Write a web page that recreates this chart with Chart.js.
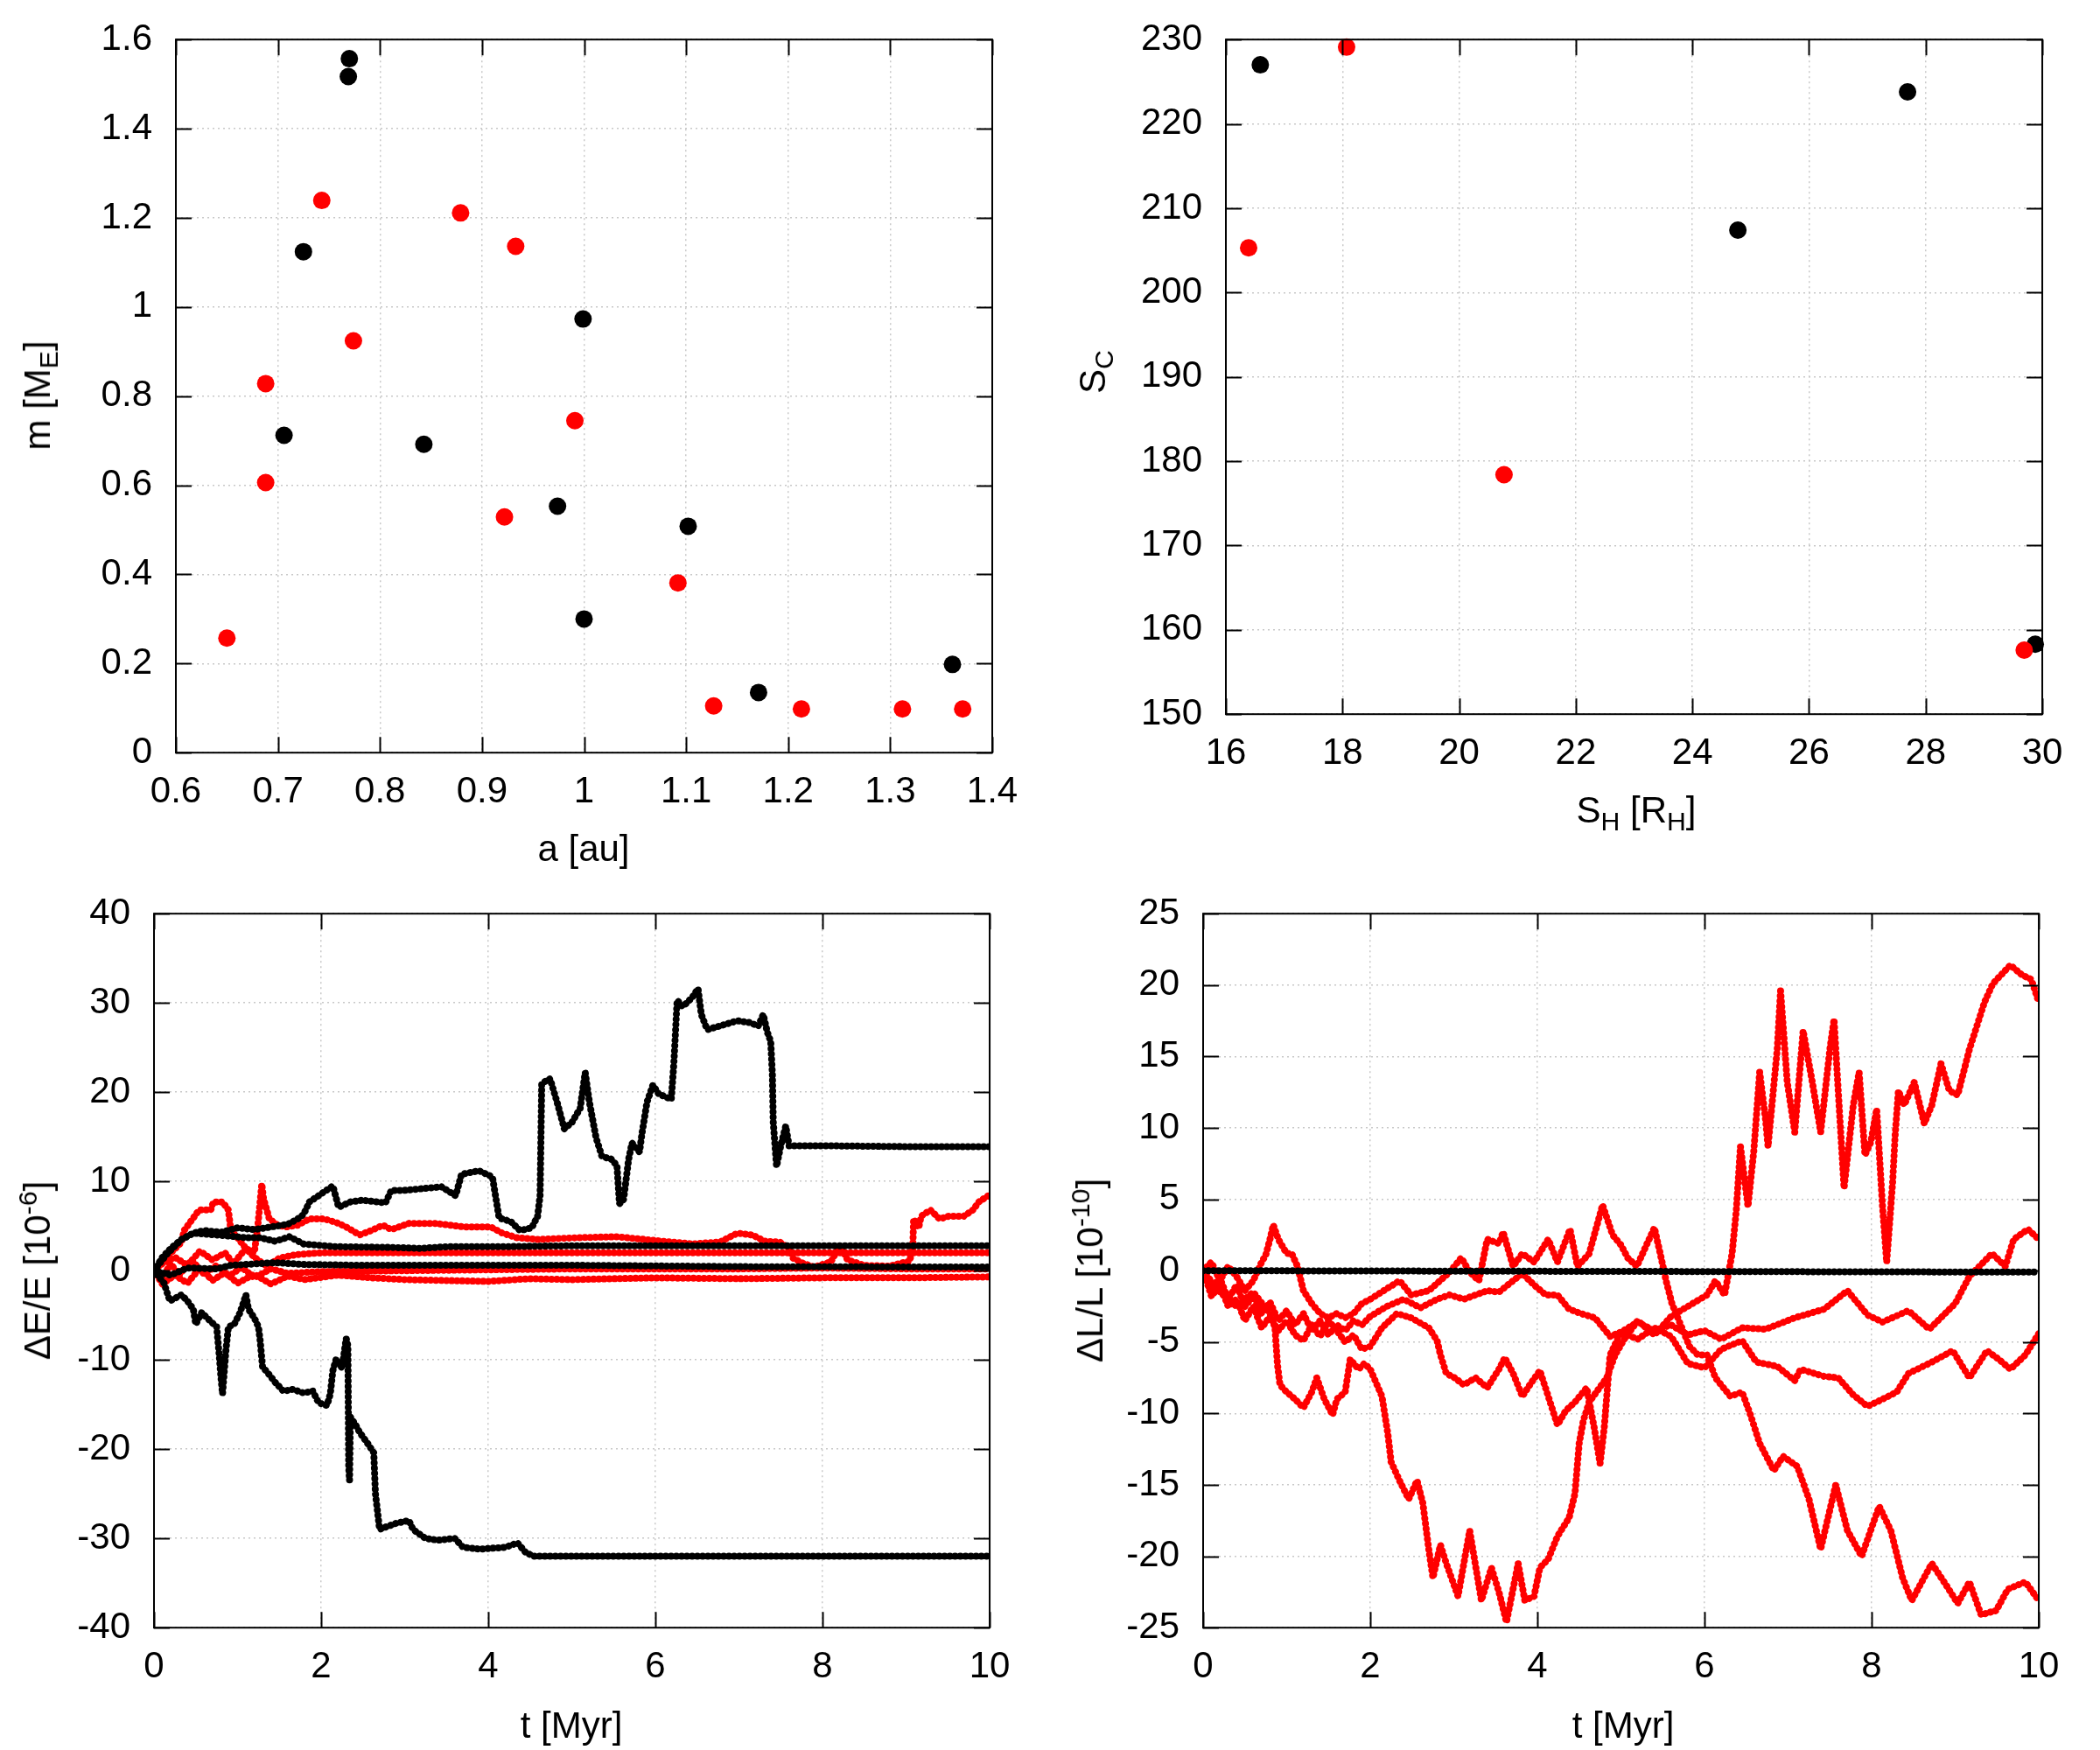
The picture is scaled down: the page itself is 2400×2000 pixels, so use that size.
<!DOCTYPE html>
<html>
<head>
<meta charset="utf-8">
<script src="https://cdn.jsdelivr.net/npm/chart.js@4.4.1/dist/chart.umd.min.js"></script>
<style>
html, body { margin: 0; padding: 0; background: #fff; }
#page { position: relative; width: 2400px; height: 2000px; overflow: hidden; font-family: "Liberation Sans", Arial, sans-serif; }
.panel { position: absolute; }
.ttl { position: absolute; font-size: 42px; white-space: nowrap; color: #000; line-height: 1; transform: translate(-50%, -50%); }
.ttl.rot { transform: translate(-50%, -50%) rotate(-90deg); }
sub, sup { font-size: 0.72em; line-height: 0; }
</style>
</head>
<body>
<div id="page">
  <canvas id="c1" class="panel"></canvas>
  <canvas id="c2" class="panel"></canvas>
  <canvas id="c3" class="panel"></canvas>
  <canvas id="c4" class="panel"></canvas>

  <div class="ttl" style="left:667px;top:970px">a [au]</div>
  <div class="ttl rot" style="left:43px;top:452px">m [M<sub>E</sub>]</div>
  <div class="ttl" style="left:1870px;top:926px">S<sub>H</sub> [R<sub>H</sub>]</div>
  <div class="ttl rot" style="left:1249px;top:425px">S<sub>C</sub></div>
  <div class="ttl rot" style="left:43px;top:1452px">&Delta;E/E [10<sup>-6</sup>]</div>
  <div class="ttl" style="left:653px;top:1972px">t [Myr]</div>
  <div class="ttl rot" style="left:1246px;top:1452px">&Delta;L/L [10<sup>-10</sup>]</div>
  <div class="ttl" style="left:1855px;top:1972px">t [Myr]</div>
</div>
<script>
// --- top left: mass vs semi-major axis
const aBlack = [0.770, 0.769, 0.725, 0.706, 0.843, 0.999, 0.974, 1.102, 1.000, 1.171, 1.361];
const mBlack = [1.557, 1.517, 1.124, 0.712, 0.692, 0.973, 0.553, 0.508, 0.300, 0.135, 0.198];
const aRed = [0.650, 0.688, 0.688, 0.743, 0.774, 0.879, 0.933, 0.991, 0.922, 1.092, 1.127, 1.213, 1.312, 1.371];
const mRed = [0.257, 0.828, 0.606, 1.239, 0.924, 1.211, 1.136, 0.745, 0.529, 0.381, 0.105, 0.098, 0.098, 0.098];

// --- top right: S_C vs S_H
const shBlack = [16.59, 24.78, 27.69, 29.88];
const scBlack = [227.0, 207.4, 223.8, 158.3];
const shRed = [16.39, 18.07, 20.77, 29.69];
const scRed = [205.3, 229.1, 178.4, 157.6];

// --- bottom left: dE/E [1e-6] vs t [Myr], pairs [t, value]
const eBlackUp = [[0,0],[0.1,1.5],[0.2,2.5],[0.33,3.5],[0.47,4.2],[0.6,4.5],[0.8,4.3],[1.0,4.8],[1.2,4.6],[1.4,4.9],[1.6,5.2],[1.72,5.8],[1.79,6.3],[1.86,7.7],[2.0,8.6],[2.14,9.5],[2.21,7.1],[2.35,7.7],[2.49,7.9],[2.77,7.6],[2.84,9.0],[3.0,9.0],[3.44,9.4],[3.61,8.4],[3.68,10.8],[3.89,11.2],[4.05,10.5],[4.13,5.9],[4.27,5.5],[4.38,4.5],[4.52,4.8],[4.59,6.1],[4.62,8.4],[4.64,21.0],[4.74,21.5],[4.82,19.0],[4.91,15.9],[5.0,16.6],[5.1,18.2],[5.16,22.2],[5.21,18.9],[5.29,14.9],[5.36,12.8],[5.47,12.5],[5.54,11.8],[5.57,7.5],[5.62,8.0],[5.68,12.5],[5.72,14.3],[5.81,13.3],[5.84,15.4],[5.9,18.9],[5.97,20.8],[6.04,19.8],[6.19,19.2],[6.22,23.1],[6.26,30.3],[6.33,29.6],[6.44,30.6],[6.51,31.6],[6.55,28.7],[6.62,27.0],[6.8,27.5],[6.98,28.0],[7.13,27.8],[7.23,27.4],[7.29,28.7],[7.34,26.7],[7.38,25.7],[7.4,22.0],[7.41,16.7],[7.45,11.7],[7.5,14.0],[7.56,16.2],[7.6,14.0],[8.0,14.0],[9.0,13.9],[10,13.9]];
const eBlackDown = [[0,0],[0.12,-1.4],[0.19,-3.4],[0.33,-2.7],[0.4,-3.4],[0.47,-4.3],[0.5,-6.0],[0.57,-4.7],[0.68,-5.7],[0.75,-6.3],[0.78,-9.4],[0.8,-11.8],[0.82,-13.8],[0.86,-9.0],[0.89,-6.3],[0.96,-6.0],[1.03,-4.7],[1.1,-2.7],[1.13,-4.3],[1.2,-5.3],[1.25,-6.3],[1.27,-7.8],[1.3,-10.9],[1.34,-11.2],[1.45,-12.5],[1.55,-13.5],[1.66,-13.3],[1.79,-13.7],[1.9,-13.5],[1.97,-14.8],[2.07,-15.1],[2.11,-13.8],[2.14,-11.2],[2.18,-9.9],[2.25,-10.9],[2.3,-7.6],[2.32,-8.4],[2.33,-22.0],[2.34,-23.5],[2.35,-16.4],[2.42,-17.4],[2.46,-18.1],[2.56,-19.4],[2.63,-20.4],[2.65,-25.0],[2.7,-29.0],[2.75,-28.8],[2.9,-28.3],[3.05,-28.0],[3.1,-29.0],[3.25,-30.0],[3.4,-30.2],[3.6,-30.0],[3.7,-31.0],[3.9,-31.2],[4.2,-31.0],[4.35,-30.5],[4.45,-31.6],[4.55,-32.0],[6,-32.0],[8,-32.0],[10,-32.0]];
const eBlackMid1 = [[0,0],[0.15,1.8],[0.33,3.5],[0.47,4.2],[0.75,4.0],[1.1,3.7],[1.27,3.7],[1.45,3.3],[1.62,3.8],[1.79,3.0],[2.14,2.7],[2.84,2.6],[3.19,2.5],[3.54,2.7],[4.24,2.7],[5.08,2.8],[7,2.8],[10,2.8]];
const eBlackMid2 = [[0,0],[0.2,-0.5],[0.4,0.3],[0.75,0.2],[0.92,0.6],[1.45,0.9],[1.79,0.7],[2.49,0.6],[3.89,0.6],[5.08,0.6],[7,0.45],[10,0.4]];
const eRed1 = [[0,0],[0.15,1.5],[0.33,3.2],[0.36,4.5],[0.54,6.8],[0.68,6.8],[0.71,7.7],[0.82,7.7],[0.89,6.8],[0.92,4.5],[0.99,3.8],[1.1,2.5],[1.2,2.0],[1.24,4.8],[1.29,9.7],[1.31,8.1],[1.34,7.1],[1.38,5.8],[1.48,5.1],[1.58,4.9],[1.72,5.1],[1.86,5.8],[2.04,5.8],[2.21,5.3],[2.32,4.8],[2.46,4.0],[2.6,4.5],[2.74,5.1],[2.84,4.6],[3.05,5.3],[3.36,5.3],[3.54,5.1],[3.71,4.9],[4.03,4.9],[4.17,4.2],[4.34,3.7],[4.59,3.5],[5.08,3.7],[5.54,3.8],[6.08,3.3],[6.44,3.0],[6.77,3.2],[6.98,4.2],[7.16,4.0],[7.31,3.3],[7.49,3.2],[7.6,2.5],[7.65,1.4],[7.75,0.9],[7.9,0.4],[8.1,1.0],[8.21,2.8],[8.3,1.2],[8.5,0.6],[8.8,0.5],[9.0,1.0],[9.04,1.0],[9.08,2.5],[9.09,5.8],[9.15,4.8],[9.18,6.1],[9.29,6.8],[9.4,5.8],[9.51,6.1],[9.69,6.1],[9.8,6.8],[9.87,7.7],[10,8.5]];
const eRed2 = [[0,0],[0.1,0.8],[0.25,1.5],[0.4,0.6],[0.55,2.2],[0.7,1.2],[0.85,2.0],[0.95,0.8],[1.1,2.5],[1.2,1.5],[1.35,0.5],[1.5,1.4],[1.7,1.8],[2.0,2.0],[3,2.0],[5,2.0],[7,2.0],[10,2.0]];
const eRed3 = [[0,0],[0.1,-0.8],[0.2,0.8],[0.3,-0.5],[0.45,1.2],[0.6,-0.4],[0.75,0.6],[0.9,-0.6],[1.05,0.4],[1.2,-0.8],[1.4,0.2],[1.6,-0.3],[2.0,-0.1],[3,0],[4,0.1],[5,0.2],[6,0.2],[7,0.2],[8,0.3],[9,0.2],[10,0.2]];
const eRed4 = [[0,0],[0.1,-1.5],[0.25,-0.5],[0.4,-1.4],[0.55,0.3],[0.7,-1.1],[0.85,-0.2],[1.0,-1.4],[1.2,-0.4],[1.4,-1.5],[1.6,-0.6],[1.8,-1.0],[2.2,-0.5],[2.6,-0.8],[3.0,-1.0],[3.5,-1.1],[4.0,-1.2],[4.5,-0.9],[5.0,-1.0],[6.0,-0.8],[7.0,-0.9],[8.0,-0.8],[9.0,-0.8],[10,-0.7]];

// --- bottom right: dL/L [1e-10] vs t [Myr]
const lBlack = [[0,0],[5,-0.05],[10,-0.1]];
const lRedA = [[0,0],[0.1,0.6],[0.2,-0.7],[0.3,0.3],[0.4,-0.4],[0.5,-1.4],[0.6,-0.7],[0.7,0.6],[0.75,1.1],[0.8,2.2],[0.84,3.2],[0.9,2.2],[1.0,1.2],[1.06,1.2],[1.13,0.3],[1.2,-1.4],[1.3,-2.3],[1.4,-3.0],[1.5,-3.3],[1.6,-3.0],[1.7,-3.3],[1.8,-3.0],[1.9,-2.3],[2.0,-2.0],[2.35,-0.7],[2.49,-1.7],[2.7,-1.4],[2.95,-0.1],[3.09,0.9],[3.19,-0.1],[3.3,-0.7],[3.4,2.2],[3.54,1.9],[3.59,2.7],[3.71,0.3],[3.82,1.2],[3.96,0.6],[4.13,2.2],[4.24,0.6],[4.39,2.9],[4.48,0.3],[4.62,1.2],[4.78,4.6],[4.9,2.5],[5.0,1.8],[5.08,0.9],[5.19,0.3],[5.29,1.6],[5.4,3.0],[5.47,1.2],[5.54,-0.7],[5.61,-2.3],[5.68,-3.3],[5.82,-5.3],[5.92,-5.9],[6.03,-5.9],[6.13,-7.5],[6.31,-8.8],[6.45,-8.5],[6.55,-10.1],[6.66,-12.1],[6.83,-14.0],[6.94,-13.0],[7.11,-13.7],[7.25,-16.0],[7.39,-19.5],[7.57,-15.0],[7.71,-18.2],[7.88,-20.0],[8.09,-16.5],[8.23,-18.2],[8.37,-21.5],[8.48,-23.1],[8.72,-20.5],[8.9,-22.1],[9.03,-23.3],[9.17,-21.8],[9.31,-24.1],[9.49,-23.8],[9.63,-22.3],[9.84,-21.8],[10,-23.1]];
const lRedB = [[0,0],[0.1,-1.2],[0.2,-0.5],[0.3,-2.0],[0.4,-1.0],[0.5,-2.5],[0.6,-1.8],[0.7,-3.0],[0.8,-2.2],[0.9,-3.5],[1.0,-2.8],[1.1,-3.8],[1.2,-3.0],[1.3,-4.2],[1.4,-3.5],[1.5,-4.5],[1.6,-3.8],[1.7,-4.2],[1.8,-3.5],[1.9,-3.8],[2.0,-3.2],[2.2,-2.5],[2.4,-2.0],[2.6,-2.6],[2.8,-2.0],[2.95,-1.7],[3.12,-2.0],[3.26,-1.7],[3.4,-1.4],[3.54,-1.5],[3.71,-0.7],[3.82,-0.2],[3.96,-1.0],[4.1,-1.7],[4.24,-1.7],[4.38,-2.7],[4.52,-3.0],[4.69,-3.3],[4.87,-4.6],[5.0,-4.3],[5.2,-3.6],[5.4,-4.2],[5.6,-3.8],[5.8,-4.5],[6.0,-4.2],[6.2,-4.8],[6.45,-4.0],[6.73,-4.1],[7.08,-3.3],[7.43,-2.7],[7.71,-1.4],[7.95,-3.1],[8.13,-3.6],[8.44,-2.8],[8.69,-4.1],[9.0,-2.3],[9.17,-0.4],[9.44,1.2],[9.6,0.3],[9.7,2.2],[9.87,2.9],[10,2.2]];
const lRedC = [[0,0],[0.1,-1.8],[0.2,-1.0],[0.3,-2.5],[0.4,-2.0],[0.5,-3.5],[0.6,-2.5],[0.7,-4.0],[0.8,-3.2],[0.9,-4.2],[1.0,-3.5],[1.1,-4.5],[1.2,-4.9],[1.3,-3.8],[1.4,-4.6],[1.5,-3.5],[1.6,-4.2],[1.7,-5.0],[1.8,-4.5],[1.9,-5.5],[2.0,-5.3],[2.14,-4.0],[2.32,-3.0],[2.49,-3.3],[2.7,-4.0],[2.8,-4.9],[2.84,-5.9],[2.91,-7.2],[3.01,-7.5],[3.12,-8.0],[3.26,-7.5],[3.4,-8.2],[3.54,-6.9],[3.61,-6.1],[3.71,-7.2],[3.82,-8.8],[3.92,-7.9],[4.03,-7.0],[4.13,-8.8],[4.24,-10.8],[4.34,-9.8],[4.45,-9.2],[4.59,-8.2],[4.68,-11.0],[4.75,-13.5],[4.8,-11.0],[4.87,-5.9],[5.0,-4.3],[5.2,-4.8],[5.4,-4.0],[5.6,-4.6],[5.8,-6.5],[6.0,-6.8],[6.2,-5.5],[6.45,-4.9],[6.62,-6.4],[6.87,-6.7],[7.08,-7.7],[7.15,-6.9],[7.43,-7.4],[7.6,-7.5],[7.78,-8.7],[7.95,-9.5],[8.13,-9.0],[8.3,-8.5],[8.44,-7.2],[8.72,-6.4],[8.97,-5.6],[9.17,-7.5],[9.38,-5.6],[9.52,-6.2],[9.66,-6.9],[9.84,-5.9],[10,-4.4]];
const lRedD = [[0,0],[0.2,-1.5],[0.4,-2.5],[0.6,-1.5],[0.8,-3.0],[0.86,-4.0],[0.89,-6.6],[0.92,-8.0],[1.0,-8.5],[1.1,-9.0],[1.2,-9.6],[1.3,-8.5],[1.36,-7.5],[1.45,-9.0],[1.55,-10.1],[1.6,-9.0],[1.7,-8.5],[1.76,-6.2],[1.86,-6.9],[1.93,-6.5],[2.0,-6.9],[2.14,-8.8],[2.21,-11.4],[2.25,-13.4],[2.35,-14.7],[2.46,-16.0],[2.56,-14.7],[2.63,-16.3],[2.7,-19.5],[2.75,-21.5],[2.84,-19.2],[2.91,-20.5],[3.05,-22.8],[3.19,-18.2],[3.33,-23.1],[3.45,-20.8],[3.54,-22.5],[3.63,-24.6],[3.77,-20.5],[3.85,-23.1],[3.96,-22.8],[4.03,-20.8],[4.13,-20.2],[4.24,-18.6],[4.38,-17.3],[4.45,-15.6],[4.5,-12.1],[4.55,-10.5],[4.62,-9.2],[4.83,-7.5],[4.93,-5.9],[5.04,-4.8],[5.2,-3.5],[5.4,-4.5],[5.6,-3.2],[5.8,-2.5],[6.03,-1.7],[6.13,-0.7],[6.24,-1.7],[6.33,1.2],[6.38,4.2],[6.43,8.7],[6.52,4.5],[6.59,8.4],[6.66,13.9],[6.73,10.6],[6.76,8.7],[6.87,15.5],[6.91,19.6],[6.99,13.2],[7.08,9.7],[7.18,16.8],[7.29,13.2],[7.39,9.7],[7.5,15.5],[7.55,17.6],[7.6,12.6],[7.67,5.8],[7.78,11.6],[7.85,13.9],[7.92,8.1],[7.99,9.0],[8.06,11.3],[8.13,4.5],[8.18,0.6],[8.25,6.1],[8.28,9.4],[8.32,12.6],[8.39,11.6],[8.51,13.2],[8.63,10.3],[8.72,11.6],[8.83,14.5],[8.93,12.6],[9.03,12.3],[9.17,15.5],[9.35,18.8],[9.45,20.1],[9.66,21.4],[9.8,20.7],[9.91,20.4],[10,18.8]];

const RED = "#ff0000";
const BLACK = "#000000";

Chart.defaults.font.family = '"Liberation Sans", Arial, sans-serif';
Chart.defaults.font.size = 42;
Chart.defaults.color = "#000";

const zip = (xs, ys) => xs.map((x, i) => ({ x: x, y: ys[i] }));
const pairs = arr => arr.map(p => ({ x: p[0], y: p[1] }));
const fmt = v => String(+v.toFixed(2));

// gnuplot style frame with inward mirrored ticks
const frameTicks = {
  id: "frameTicks",
  afterDatasetsDraw(chart) {
    const { ctx, chartArea: a, scales } = chart;
    const len = 18;
    ctx.save();
    ctx.strokeStyle = "#000";
    ctx.lineWidth = 2;
    ctx.beginPath();
    scales.x.ticks.forEach((t, i) => {
      const px = Math.round(scales.x.getPixelForTick(i)) + 0.5;
      ctx.moveTo(px, a.bottom); ctx.lineTo(px, a.bottom - len);
      ctx.moveTo(px, a.top); ctx.lineTo(px, a.top + len);
    });
    scales.y.ticks.forEach((t, i) => {
      const py = Math.round(scales.y.getPixelForTick(i)) + 0.5;
      ctx.moveTo(a.left, py); ctx.lineTo(a.left + len, py);
      ctx.moveTo(a.right, py); ctx.lineTo(a.right - len, py);
    });
    ctx.stroke();
    ctx.strokeRect(a.left, a.top, a.right - a.left, a.bottom - a.top);
    ctx.restore();
  }
};

function axis(min, max, step, isX, padL, padB) {
  return {
    type: "linear",
    min: min, max: max,
    grid: { color: "#c8c8c8", lineWidth: 1.5, drawTicks: false },
    border: { display: false, dash: [2, 4] },
    ticks: { stepSize: step, autoSkip: false, maxRotation: 0, padding: isX ? 20 : 27, callback: fmt },
    afterFit: s => { if (isX) s.height = padB; else s.width = padL; }
  };
}

// place a chart so that its plot area lands on box (page pixels)
function makePanel(id, box, xr, yr, datasets) {
  const L = 140, B = 90;
  const w = box.right - box.left, h = box.bottom - box.top;
  const cv = document.getElementById(id);
  cv.width = w + L + 40;
  cv.height = h + B + 30;
  cv.style.width = cv.width + "px";
  cv.style.height = cv.height + "px";
  const chart = new Chart(cv, {
    type: "scatter",
    data: { datasets: datasets },
    options: {
      responsive: false,
      maintainAspectRatio: false,
      animation: false,
      devicePixelRatio: 1,
      layout: { padding: 0 },
      plugins: { legend: { display: false }, tooltip: { enabled: false } },
      scales: {
        x: axis(xr[0], xr[1], xr[2], true, L, B),
        y: axis(yr[0], yr[1], yr[2], false, L, B)
      }
    },
    plugins: [frameTicks]
  });
  let a = chart.chartArea;
  const dw = w - (a.right - a.left), dh = h - (a.bottom - a.top);
  if (Math.abs(dw) > 0.5 || Math.abs(dh) > 0.5) {
    chart.resize(cv.width + dw, cv.height + dh);
    a = chart.chartArea;
  }
  cv.style.left = (box.left - a.left) + "px";
  cv.style.top = (box.top - a.top) + "px";
  return chart;
}

function dots(data, color) {
  return { data: data, pointRadius: 10, pointBackgroundColor: color, pointBorderWidth: 0, borderWidth: 0, clip: false };
}
function trace(data, color) {
  return {
    data: data, showLine: true, pointRadius: 0, borderColor: color, borderWidth: 8,
    borderDash: [0.01, 6], borderCapStyle: "round", borderJoinStyle: "round", tension: 0
  };
}

makePanel("c1", { left: 201, top: 45, right: 1134, bottom: 860 }, [0.6, 1.4, 0.1], [0, 1.6, 0.2], [
  dots(zip(aRed, mRed), RED),
  dots(zip(aBlack, mBlack), BLACK)
]);

makePanel("c2", { left: 1401, top: 45, right: 2334, bottom: 816 }, [16, 30, 2], [150, 230, 10], [
  dots(zip(shRed, scRed), RED),
  dots(zip(shBlack, scBlack), BLACK)
]);

makePanel("c3", { left: 176, top: 1044, right: 1131, bottom: 1860 }, [0, 10, 2], [-40, 40, 10], [
  trace(pairs(eBlackUp), BLACK),
  trace(pairs(eBlackDown), BLACK),
  trace(pairs(eBlackMid1), BLACK),
  trace(pairs(eBlackMid2), BLACK),
  trace(pairs(eRed1), RED),
  trace(pairs(eRed2), RED),
  trace(pairs(eRed3), RED),
  trace(pairs(eRed4), RED)
]);

makePanel("c4", { left: 1375, top: 1044, right: 2330, bottom: 1860 }, [0, 10, 2], [-25, 25, 5], [
  trace(pairs(lBlack), BLACK),
  trace(pairs(lRedA), RED),
  trace(pairs(lRedB), RED),
  trace(pairs(lRedC), RED),
  trace(pairs(lRedD), RED)
]);
</script>
</body>
</html>
